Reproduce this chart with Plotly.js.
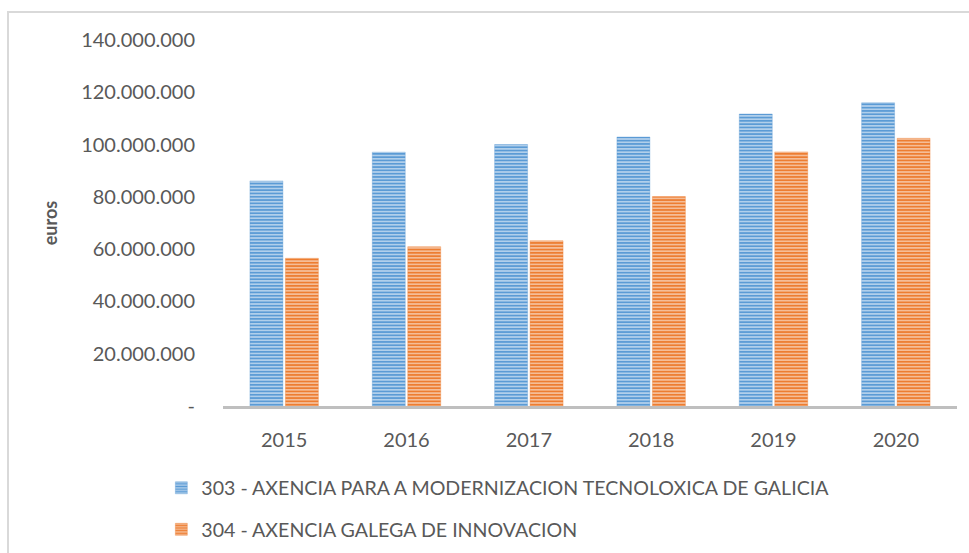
<!DOCTYPE html>
<html>
<head>
<meta charset="utf-8">
<script src="https://cdn.plot.ly/plotly-3.0.1.min.js"></script>
<style>
  html, body { margin: 0; padding: 0; background: #ffffff; }
  #frame { position: absolute; left: 7px; top: 11px; width: 1000px; height: 600px;
           border-left: 2px solid #d9d9d9; border-top: 2px solid #d9d9d9; }
  #chart { position: absolute; left: 0; top: 0; width: 969px; height: 553px; }
</style>
</head>
<body>
<div id="frame"></div>
<div id="chart"></div>
<script>
const years = ['2015', '2016', '2017', '2018', '2019', '2020'];
const seriesNames = [
  '303 - AXENCIA PARA A MODERNIZACION TECNOLOXICA DE GALICIA',
  '304 - AXENCIA GALEGA DE INNOVACION'
];
const modernizacion = [86100000, 97100000, 100000000, 102900000, 111700000, 116000000];
const innovacion = [56500000, 60900000, 63200000, 80100000, 97200000, 102400000];
const yTickVals = [0, 20000000, 40000000, 60000000, 80000000, 100000000, 120000000, 140000000];
const yTickText = ['-', '20.000.000', '40.000.000', '60.000.000', '80.000.000', '100.000.000', '120.000.000', '140.000.000'];

const font = 'Lato, "Open Sans", sans-serif';
const textColor = '#595959';

const traces = [
  {
    type: 'bar', name: seriesNames[0], x: years, y: modernizacion, legendgroup: 'a',
    marker: {
      color: '#5b9bd5',
      line: { color: 'rgba(91,155,213,0.35)', width: 1 },
      pattern: { shape: '-', fgcolor: '#5b9bd5', bgcolor: '#c6dcf1', size: 3.3, solidity: 0.6, fillmode: 'replace' }
    },
    hoverinfo: 'skip'
  },
  {
    type: 'bar', name: seriesNames[1], x: years, y: innovacion, legendgroup: 'b',
    marker: {
      color: '#ed7d31',
      line: { color: 'rgba(237,125,49,0.35)', width: 1 },
      pattern: { shape: '-', fgcolor: '#ed7d31', bgcolor: '#f8cdb0', size: 3.3, solidity: 0.6, fillmode: 'replace' }
    },
    hoverinfo: 'skip'
  }
];

const layout = {
  width: 969, height: 553,
  margin: { l: 223, r: 12, t: 40, b: 147, autoexpand: false },
  paper_bgcolor: 'rgba(0,0,0,0)',
  plot_bgcolor: 'rgba(0,0,0,0)',
  font: { family: font, color: textColor, size: 20 },
  barmode: 'group', bargap: 0.42, bargroupgap: 0.07,
  showlegend: true,
  legend: {
    orientation: 'v', x: -0.084, xanchor: 'left', y: -0.171, yanchor: 'top',
    font: { family: font, size: 19.6, color: textColor },
    tracegroupgap: 13, itemwidth: 30, bgcolor: 'rgba(0,0,0,0)'
  },
  xaxis: {
    type: 'category',
    showline: true, linecolor: '#bfbfbf', linewidth: 2.5,
    ticks: '', showgrid: false, zeroline: false,
    tickfont: { family: font, size: 20, color: textColor },
    ticklabelstandoff: 14
  },
  yaxis: {
    range: [0, 140000000],
    tickvals: yTickVals, ticktext: yTickText,
    showgrid: false, zeroline: false, showline: false, ticks: '',
    tickfont: { family: font, size: 20, color: textColor },
    ticklabelstandoff: 27,
    title: { text: '<b>euros</b>', font: { family: font, size: 18, color: textColor }, standoff: 18 }
  }
};

Plotly.newPlot('chart', traces, layout, { displayModeBar: false, staticPlot: true });
</script>
</body>
</html>
